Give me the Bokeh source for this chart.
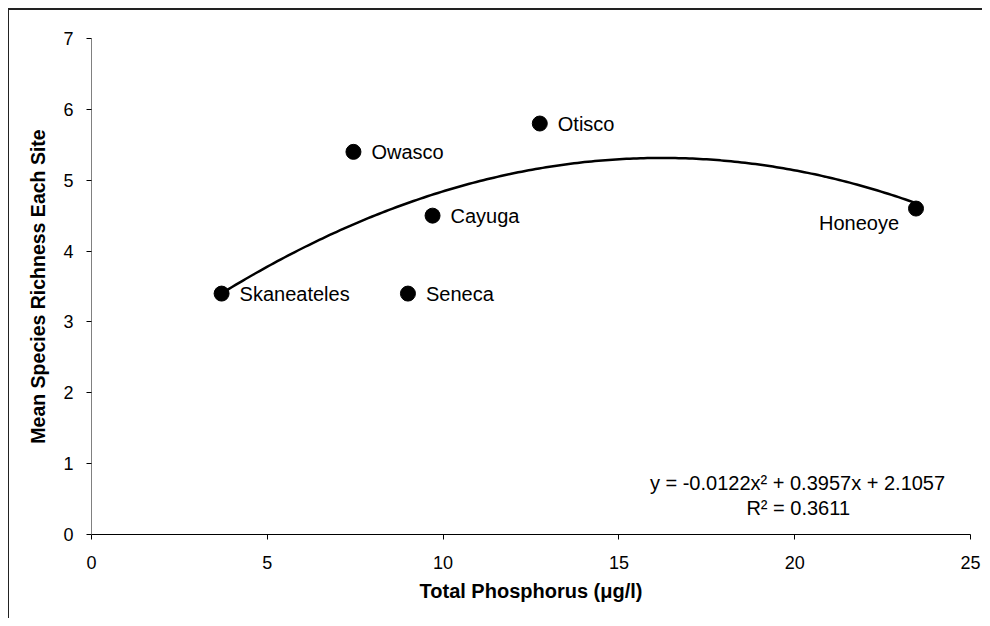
import numpy as np
from bokeh.plotting import figure
from bokeh.models import ColumnDataSource, Range1d, Label, FixedTicker
from bokeh.core.properties import value
from bokeh.embed import file_html
from bokeh.resources import INLINE

# ---- data ----
lakes = ["Skaneateles", "Seneca", "Owasco", "Cayuga", "Otisco", "Honeoye"]
phosphorus = [3.7, 9.0, 7.45, 9.7, 12.75, 23.45]
richness = [3.4, 3.4, 5.4, 4.5, 5.8, 4.6]
fit_coeffs = [-0.0122, 0.3957, 2.1057]
eq_text = "y = -0.0122x\u00b2 + 0.3957x + 2.1057"
r2_text = "R\u00b2 = 0.3611"
x_ticks = [0, 5, 10, 15, 20, 25]
y_ticks = [0, 1, 2, 3, 4, 5, 6, 7]
x_title = "Total Phosphorus (\u03bcg/l)"
y_title = "Mean Species Richness Each Site"

FONT = "Liberation Sans"

p = figure(width=974, height=610, output_backend="svg", toolbar_location=None,
           x_range=Range1d(0, 25), y_range=Range1d(0, 7),
           min_border_left=82, min_border_right=13, min_border_top=28, min_border_bottom=86,
           styles={"border-top": "2px solid #222", "border-left": "1px solid #222",
                   "margin-left": "8px", "margin-top": "8px"})
p.outline_line_color = None
p.xgrid.visible = False
p.ygrid.visible = False
p.background_fill_color = "white"
p.border_fill_color = "white"

# axes
p.xaxis.ticker = FixedTicker(ticks=x_ticks)
p.yaxis.ticker = FixedTicker(ticks=y_ticks)
for ax in (p.xaxis[0], p.yaxis[0]):
    ax.minor_tick_line_color = None
    ax.major_tick_in = 0
    ax.major_tick_out = 5
    ax.major_tick_line_color = "black"
    ax.major_label_text_font = FONT
    ax.major_label_text_font_size = "18px"
    ax.major_label_text_color = "black"
    ax.axis_label_text_font = FONT
    ax.axis_label_text_font_size = "20px"
    ax.axis_label_text_font_style = "bold"
    ax.axis_label_text_color = "black"
p.yaxis.axis_label_text_font_size = "19.5px"
p.xaxis.axis_line_color = "black"
p.yaxis.axis_line_color = "#808080"
p.xaxis.axis_label = x_title
p.yaxis.axis_label = y_title
p.xaxis.major_label_standoff = 16
p.yaxis.major_label_standoff = 13
p.xaxis.axis_label_standoff = 8
p.yaxis.axis_label_standoff = 11

# trendline from fitted polynomial
xs = np.linspace(min(phosphorus), max(phosphorus), 200)
ys = np.polyval(fit_coeffs, xs)
p.line(xs, ys, line_color="black", line_width=2.5)

src = ColumnDataSource(dict(x=phosphorus, y=richness, name=lakes))
p.scatter("x", "y", source=src, size=15, fill_color="black", line_color="black", marker="circle")

right_idx = [i for i, n in enumerate(lakes) if n != "Honeoye"]
left_idx = [i for i, n in enumerate(lakes) if n == "Honeoye"]
src_r = ColumnDataSource(dict(x=[phosphorus[i] for i in right_idx], y=[richness[i] for i in right_idx],
                              name=[lakes[i] for i in right_idx]))
src_l = ColumnDataSource(dict(x=[phosphorus[i] for i in left_idx], y=[richness[i] for i in left_idx],
                              name=[lakes[i] for i in left_idx]))
p.text("x", "y", text="name", source=src_r, x_offset=18, y_offset=0,
       text_align="left", text_baseline="middle", text_font=value(FONT),
       text_font_size="20px", text_color="black")
p.text("x", "y", text="name", source=src_l, x_offset=-17, y_offset=14,
       text_align="right", text_baseline="middle", text_font=value(FONT),
       text_font_size="20px", text_color="black")

p.add_layout(Label(x=20.08, y=0.73, text=eq_text, text_align="center", text_baseline="middle",
                   text_font=FONT, text_font_size="20px", text_color="black"))
p.add_layout(Label(x=20.1, y=0.38, text=r2_text, text_align="center", text_baseline="middle",
                   text_font=FONT, text_font_size="20px", text_color="black"))

open("out.html", "w").write(file_html(p, INLINE))
